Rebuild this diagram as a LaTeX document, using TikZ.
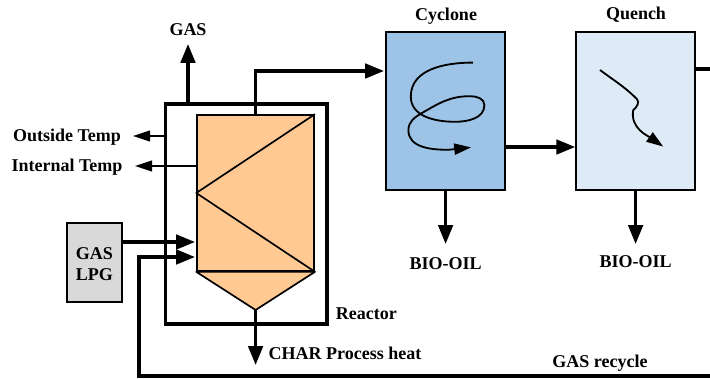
\documentclass[tikz,border=0pt]{standalone}
\usepackage{fontspec}
\setmainfont{Liberation Serif}
\usetikzlibrary{positioning,arrows.meta,calc}
\tikzset{
  flowarrow/.style={-{Triangle[length=4.7mm,width=3.6mm]}, line width=2.3pt},
  temparrow/.style={-{Triangle[length=4.3mm,width=2.7mm]}, line width=1.5pt},
  swirlarrow/.style={-{Triangle[length=4.2mm,width=2.8mm]}, line width=1.3pt},
  pipe/.style={line width=2.3pt},
  vessel/.style={draw, line width=1.2pt, inner sep=0pt},
  jacket/.style={draw, line width=2.3pt, inner sep=0pt, minimum width=4.03cm, minimum height=5.5cm},
  unitbox/.style={vessel, minimum width=2.975cm, minimum height=3.95cm},
  tag/.style={font=\fontsize{12.8}{15}\selectfont\bfseries, inner sep=1pt, align=center, yshift=-1pt}
}
\definecolor{reactorfill}{HTML}{FFC993}
\definecolor{cyclonefill}{HTML}{9DC3E6}
\definecolor{quenchfill}{HTML}{DEEBF7}
\definecolor{lpgfill}{HTML}{D9D9D9}
\begin{document}
\begin{tikzpicture}
  \useasboundingbox (0,0) rectangle (17.75,9.475);
  \node[jacket] (jacket) at (6.16,4.125) {};
  \node[vessel, fill=reactorfill, minimum width=2.925cm, minimum height=3.9cm] (reactor) at (6.39,4.65) {};
  \coordinate (hoppertip) at (6.39,1.725);
  \draw[vessel, fill=reactorfill, line join=round] (reactor.south west) -- (hoppertip) -- (reactor.south east) -- cycle;
  \draw[line width=1.2pt, line join=round] (reactor.north east) -- (reactor.west) -- (reactor.south east);
  \node[unitbox, fill=cyclonefill] (cyclone) at (11.14,6.7) {};
  \node[unitbox, fill=quenchfill] (quench) at (15.89,6.7) {};
  \node[vessel, fill=lpgfill, minimum width=1.375cm, minimum height=1.975cm] (lpg) at (2.36,2.91) {};
  % labels
  \node[tag] (gaslabel) at (4.7,8.78) {GAS};
  \node[tag] (outside) at (1.675,6.075) {Outside Temp};
  \node[tag] (internal) at (1.675,5.325) {Internal Temp};
  \node[tag] (lpglabel) at (lpg.center) {GAS\\LPG};
  \node[tag] (reactorlabel) at (9.16,1.675) {Reactor};
  \node[tag] (charlabel) at (8.625,0.675) {CHAR Process heat};
  \node[tag] (cyclonelabel) at (11.15,9.1) {Cyclone};
  \node[tag] (quenchlabel) at (15.9,9.15) {Quench};
  \node[tag] (oilone) at (11.14,2.925) {BIO-OIL};
  \node[tag] (oiltwo) at (15.89,2.975) {BIO-OIL};
  \node[tag] (recyclelabel) at (15,0.425) {GAS recycle};
  % free ends
  \coordinate (gastip) at (4.7,8.375);
  \coordinate (outsidetip) at (3.325,6.075);
  \coordinate (internaltip) at (3.375,5.325);
  \coordinate (lpgtip) at (4.875,3.425);
  \coordinate (recycletip) at (4.875,3.05);
  \coordinate (chartip) at (6.39,0.35);
  \coordinate (cyclonetip) at (9.6,7.7);
  \coordinate (onetip) at (11.14,3.375);
  \coordinate (twotip) at (15.89,3.375);
  \coordinate (recycleend) at (17.75,0.075);
  \coordinate (recyclecorner) at (3.475,0.075);
  \coordinate (quenchend) at (17.75,7.75);
  \coordinate (midtip) at (quench.west |- 0,5.8);
  % connectors
  \draw[flowarrow] (gastip |- jacket.north) -- (gastip);
  \draw[temparrow] (jacket.west |- outsidetip) -- (outsidetip);
  \draw[temparrow] (reactor.west |- internaltip) -- (internaltip);
  \draw[flowarrow] (lpg.east |- lpgtip) -- (lpgtip);
  \draw[flowarrow] (recycleend) -- (recyclecorner) |- (recycletip);
  \draw[flowarrow] (hoppertip) -- (chartip);
  \draw[flowarrow] (reactor.north) |- (cyclonetip);
  \draw[flowarrow] (cyclone.east |- midtip) -- (midtip);
  \draw[pipe] (quench.east |- quenchend) -- (quenchend);
  \draw[flowarrow] (cyclone.south) -- (onetip);
  \draw[flowarrow] (quench.south) -- (twotip);
  % swirl and quench path
  \draw[swirlarrow] (11.82,7.91) to[out=180,in=90] (10.27,7.06) to[out=270,in=180] (11.375,6.43)
    to[out=0,in=270] (12.11,6.85) to[out=90,in=0] (11.75,7.07) to[out=180,in=30] (10.55,6.65)
    to[out=210,in=90] (10.21,6.22) to[out=270,in=180] (11.21,5.73) -- (11.775,5.79);
  \draw[swirlarrow] (15,7.725) to[out=-37,in=135] (15.92,7.0) to[out=-45,in=40] (15.83,6.72)
    to[out=-100,in=145] (16.58,5.81);
\end{tikzpicture}
\end{document}
